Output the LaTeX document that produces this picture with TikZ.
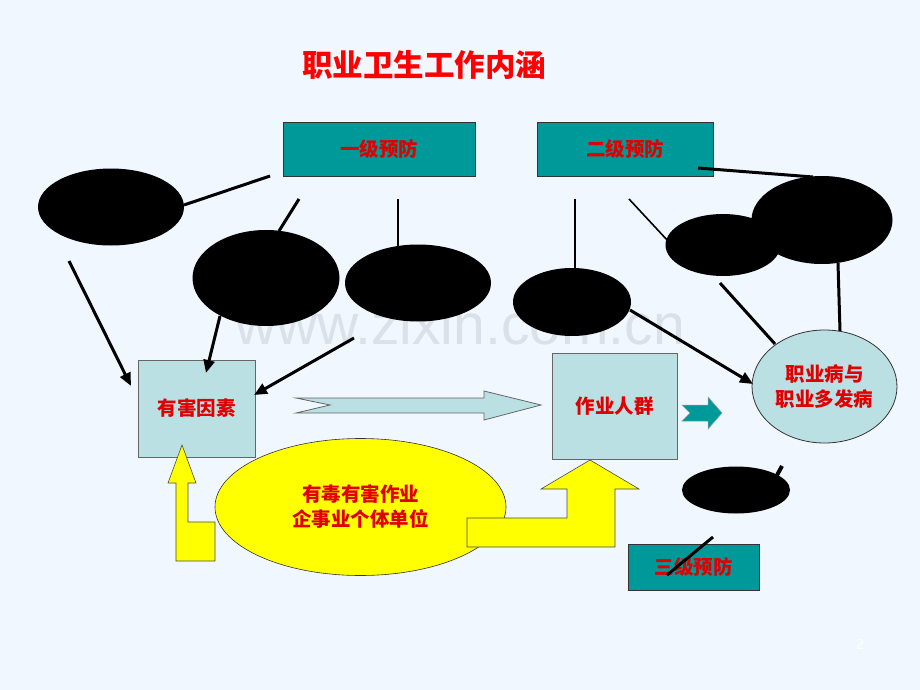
\documentclass[tikz,border=0pt]{standalone}
\usepackage{fontspec}
\setmainfont{Liberation Sans}
\newfontfamily\cjk{Noto Sans CJK SC}
\usetikzlibrary{shapes.geometric,arrows.meta}
\definecolor{bg}{HTML}{F0F7FE}
\definecolor{tealbox}{HTML}{009999}
\definecolor{paleteal}{HTML}{BAE0E3}
\definecolor{txtred}{HTML}{E00000}
\definecolor{wmark}{HTML}{DCE0E8}
\definecolor{yel}{HTML}{FFFF00}
\tikzset{
  cjktext/.style={font=\cjk\bfseries\fontsize{19.5}{23}\selectfont,text=txtred},
  tealrect/.style={draw=black!80,line width=0.8pt,fill=tealbox,rectangle,inner sep=0pt,cjktext},
  palerect/.style={draw=black!60,line width=0.8pt,fill=paleteal,rectangle,inner sep=0pt,cjktext},
  blob/.style={ellipse,fill=black,draw=none,inner sep=0pt},
  thickln/.style={line width=3pt,black},
  thinln/.style={line width=2pt,black},
  arr/.style={line width=3pt,black,-{Triangle[length=13pt,width=11pt]}},
}
\begin{document}
\begin{tikzpicture}[x=1pt,y=-1pt]
\fill[bg] (0,0) rectangle (920,690);
\useasboundingbox (0,0) rectangle (920,690);

% watermark
\node[anchor=base,text=wmark,font=\fontsize{57}{60}\selectfont,inner sep=0pt] (wm) at (460,344) {www.zixin.com.cn};

% title
\node[font=\cjk\bfseries\fontsize{30.5}{34}\selectfont,text=red] (title) at (424,65) {职业卫生工作内涵};

% prevention boxes
\node[tealrect,minimum width=192pt,minimum height=54pt] (p1) at (379,149) {一级预防};
\node[tealrect,minimum width=176pt,minimum height=54pt] (p2) at (625,149) {二级预防};
\node[tealrect,minimum width=131pt,minimum height=46pt] (p3) at (693.5,567) {三级预防};

% black ellipses
\node[blob,minimum width=146pt,minimum height=77pt] (e1) at (111,207) {};
\node[blob,minimum width=147pt,minimum height=96pt] (e2) at (266,278) {};
\node[blob,minimum width=146pt,minimum height=77pt] (e3) at (418,283) {};
\node[blob,minimum width=118pt,minimum height=68pt] (e4) at (572,302) {};
\node[blob,minimum width=115pt,minimum height=62pt] (e5) at (723,245) {};
\node[blob,minimum width=141pt,minimum height=88pt] (e6) at (822,220) {};
\node[blob,minimum width=108pt,minimum height=47pt] (e7) at (736,490) {};

% main boxes
\node[palerect,minimum width=117pt,minimum height=97pt] (hai) at (196.5,408.5) {有害因素};
\node[palerect,minimum width=125pt,minimum height=106pt] (ren) at (614.5,406) {作业人群};
\node[ellipse,draw=black!80,line width=0.8pt,fill=paleteal,inner sep=0pt,
      minimum width=145pt,minimum height=113pt,align=center,
      cjktext,font=\cjk\bfseries\fontsize{19.5}{25}\selectfont] (bing) at (824.5,386.5) {职业病与\\职业多发病};

% yellow ellipse
\node[ellipse,draw=black!80,line width=0.6pt,fill=yel,inner sep=0pt,
      minimum width=291pt,minimum height=137pt,align=center,
      cjktext,font=\cjk\bfseries\fontsize{19.5}{25}\selectfont] (qi) at (360.5,507) {有毒有害作业\\企事业个体单位};

% yellow block arrows
\draw[fill=yel,draw=black!70,line width=0.6pt]
  (176,561) -- (176,483) -- (168,483) -- (182,445) -- (196,483) -- (188,483)
  -- (188,522) -- (215,522) -- (215,561) -- cycle;
\draw[fill=yel,draw=black!70,line width=0.6pt]
  (467,518) -- (567,518) -- (567,489) -- (541,489) -- (590,460) -- (639,489)
  -- (615,489) -- (615,547) -- (467,547) -- cycle;

% pale notched arrow hai -> ren
\draw[fill=paleteal,draw=black!60,line width=0.8pt]
  (296,398) -- (484,398) -- (484,391) -- (541,405) -- (484,420) -- (484,413)
  -- (296,413) -- (330,405) -- cycle;

% teal notched arrow ren -> bing
\draw[fill=tealbox,draw=black!40,line width=0.5pt]
  (682,405) -- (708,405) -- (708,397) -- (722,413) -- (708,429) -- (708,421)
  -- (682,421) -- (690,413) -- cycle;

% connector end points
\coordinate (a1) at (270,176);  \coordinate (b1) at (184,205);
\coordinate (a2) at (299,199);  \coordinate (b2) at (279,231);
\coordinate (a3) at (398,199);  \coordinate (b3) at (398,246);
\coordinate (a4) at (69,261);   \coordinate (b4) at (131,386);
\coordinate (a5) at (220,316);  \coordinate (b5) at (206,373);
\coordinate (a6) at (354,338);  \coordinate (b6) at (254,395);
\coordinate (a7) at (698,168);  \coordinate (b7) at (813,177);
\coordinate (a8) at (575,199);  \coordinate (b8) at (575,269);
\coordinate (a9) at (629,199);  \coordinate (b9) at (668,241);
\coordinate (a10) at (720,283); \coordinate (b10) at (775,344);
\coordinate (a11) at (838,263); \coordinate (b11) at (840,331);
\coordinate (a12) at (630,310); \coordinate (b12) at (753,384);
\coordinate (a13) at (782,466); \coordinate (b13) at (776,477);
\coordinate (a14) at (713,537); \coordinate (b14) at (667,575);

\draw[thickln] (a1) -- (b1);
\draw[thickln] (a2) -- (b2);
\draw[thinln]  (a3) -- (b3);
\draw[arr] (a4) -- (b4);
\draw[arr] (a5) -- (b5);
\draw[arr] (a6) -- (b6);
\draw[thickln] (a7) -- (b7);
\draw[thinln]  (a8) -- (b8);
\draw[line width=1.6pt] (a9) -- (b9);
\draw[thickln] (a10) -- (b10);
\draw[thickln] (a11) -- (b11);
\draw[arr] (a12) -- (b12);
\draw[line width=4pt] (a13) -- (b13);
\draw[thickln] (a14) -- (b14);

% page number
\node[text=white,font=\fontsize{15}{18}\selectfont] (pg) at (860,644) {2};
\end{tikzpicture}
\end{document}
